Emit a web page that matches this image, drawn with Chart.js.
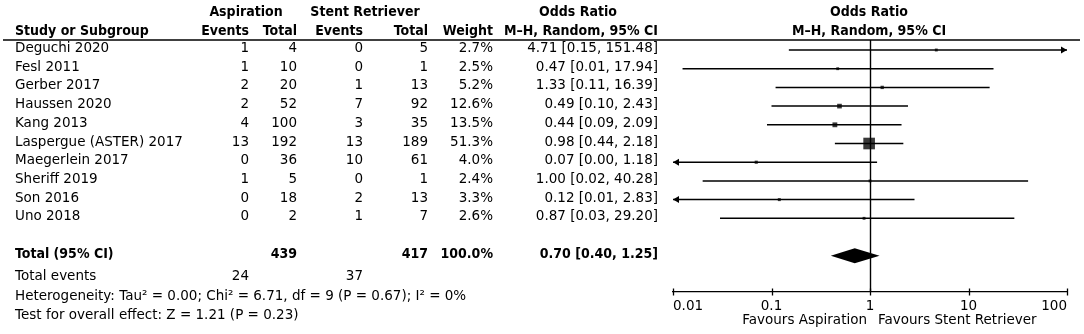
<!DOCTYPE html>
<html>
<head>
<meta charset="utf-8">
<script src="https://cdn.jsdelivr.net/npm/chart.js@4/dist/chart.umd.min.js"></script>
<style>
html,body{margin:0;padding:0;background:#fff;}
canvas{display:block;}
</style>
</head>
<body>
<canvas id="c" width="1084" height="334"></canvas>
<script>
// ---- data ----
const studies = ['Deguchi 2020','Fesl 2011','Gerber 2017','Haussen 2020','Kang 2013','Laspergue (ASTER) 2017','Maegerlein 2017','Sheriff 2019','Son 2016','Uno 2018'];
const aspEvents = [1,1,2,2,4,13,0,1,0,0];
const aspTotal = [4,10,20,52,100,192,36,5,18,2];
const stentEvents = [0,0,1,7,3,13,10,0,2,1];
const stentTotal = [5,1,13,92,35,189,61,1,13,7];
const weights = [2.7,2.5,5.2,12.6,13.5,51.3,4.0,2.4,3.3,2.6];
const orValues = [4.71,0.47,1.33,0.49,0.44,0.98,0.07,1.00,0.12,0.87];
const ciLow = [0.15,0.0125,0.11,0.10,0.09,0.44,0.004,0.02,0.0051,0.03];
const ciHigh = [151.48,17.94,16.39,2.43,2.09,2.18,1.18,40.28,2.83,29.20];
const totalLabel = 'Total (95% CI)';
const totalAspTotal = 439, totalStentTotal = 417, totalWeight = 100.0;
const totalOR = 0.70, totalLow = 0.40, totalHigh = 1.25;
const eventsLabel = 'Total events';
const totalAspEvents = 24, totalStentEvents = 37;
const heterogeneityText = 'Heterogeneity: Tau\u00B2 = 0.00; Chi\u00B2 = 6.71, df = 9 (P = 0.67); I\u00B2 = 0%';
const overallText = 'Test for overall effect: Z = 1.21 (P = 0.23)';
const tickValues = [0.01,0.1,1,10,100];
const tickLabels = ['0.01','0.1','1','10','100'];
const favoursLeft = 'Favours Aspiration';
const favoursRight = 'Favours Stent Retriever';

// ---- layout / style ----
const FONT = '"DejaVu Sans", Verdana, sans-serif';
const BFONT = '"DejaVu Sans Condensed", "DejaVu Sans", sans-serif';
const FS = 13.5, BFS = 14;
const ROW_TOTAL = 11;

const ciDatasets = studies.map((s,i)=>({
  type:'line',
  label:s,
  data:[{x:ciLow[i],y:i},{x:ciHigh[i],y:i}],
  borderColor:'#000',borderWidth:1.5,pointRadius:0,showLine:true,fill:false
}));
const pointDataset = {
  type:'scatter',
  label:'OR',
  data:orValues.map((v,i)=>({x:v,y:i})),
  pointStyle:'rect',
  pointRadius:weights.map(w=>(2.4+w*0.18)/Math.SQRT2),
  backgroundColor:'#383838',borderColor:'#383838',borderWidth:0
};

function fmt(v,d){return v.toFixed(d);}

const forestPlugin = {
  id:'forest',
  afterDatasetsDraw(chart){
    const ctx = chart.ctx, xs = chart.scales.x, ys = chart.scales.y, ca = chart.chartArea;
    ctx.save();
    ctx.strokeStyle='#000'; ctx.fillStyle='#000'; ctx.lineWidth=1.4;
    // null line at OR = 1
    const x1 = Math.round(xs.getPixelForValue(1))+0.5;
    ctx.beginPath(); ctx.moveTo(x1,ca.top); ctx.lineTo(x1,ca.bottom); ctx.stroke();
    // arrows for CIs beyond the axis
    studies.forEach((s,i)=>{
      const y = ys.getPixelForValue(i);
      if (ciHigh[i] > xs.max){
        const xe = xs.getPixelForValue(xs.max);
        ctx.beginPath(); ctx.moveTo(xe,y); ctx.lineTo(xe-6,y-3.5); ctx.lineTo(xe-6,y+3.5); ctx.closePath(); ctx.fill();
      }
      if (ciLow[i] < xs.min){
        const xe = xs.getPixelForValue(xs.min);
        ctx.beginPath(); ctx.moveTo(xe,y); ctx.lineTo(xe+6,y-3.5); ctx.lineTo(xe+6,y+3.5); ctx.closePath(); ctx.fill();
      }
    });
    // pooled diamond
    const yd = ys.getPixelForValue(ROW_TOTAL);
    const xl = xs.getPixelForValue(totalLow), xm = xs.getPixelForValue(totalOR), xr = xs.getPixelForValue(totalHigh);
    ctx.beginPath(); ctx.moveTo(xl,yd); ctx.lineTo(xm,yd-7.5); ctx.lineTo(xr,yd); ctx.lineTo(xm,yd+7.5); ctx.closePath(); ctx.fill();
    // axis ticks (crossing the axis line)
    ctx.lineWidth=1.3;
    tickValues.forEach(v=>{
      const x = Math.round(xs.getPixelForValue(v))+0.5;
      ctx.beginPath(); ctx.moveTo(x,ca.bottom-3.5); ctx.lineTo(x,ca.bottom+3.5); ctx.stroke();
    });
    ctx.restore();
  },
  afterDraw(chart){
    const ctx = chart.ctx, ys = chart.scales.y, xs = chart.scales.x;
    ctx.save();
    ctx.fillStyle='#000';
    ctx.textBaseline='middle';
    const reg = FS+'px '+FONT, bold = 'bold '+BFS+'px '+BFONT;
    function t(str,x,y,align,font){ctx.font=font||reg;ctx.textAlign=align||'left';ctx.fillText(str,x,y);}
    // header
    t('Aspiration',246,12.5,'center',bold);
    t('Stent Retriever',365,12.5,'center',bold);
    t('Odds Ratio',578,12.5,'center',bold);
    t('Odds Ratio',869,12.5,'center',bold);
    t('Study or Subgroup',15,31,'left',bold);
    t('Events',249,31,'right',bold);
    t('Total',297,31,'right',bold);
    t('Events',363,31,'right',bold);
    t('Total',428,31,'right',bold);
    t('Weight',493,31,'right',bold);
    t('M\u2013H, Random, 95% CI',658,31,'right',bold);
    t('M\u2013H, Random, 95% CI',869,31,'center',bold);
    // header rule
    ctx.strokeStyle='#000'; ctx.lineWidth=1.3;
    ctx.beginPath(); ctx.moveTo(3,40); ctx.lineTo(1080,40); ctx.stroke();
    // rows
    studies.forEach((s,i)=>{
      const y = ys.getPixelForValue(i)-1.5;
      t(s,15,y);
      t(String(aspEvents[i]),249,y,'right');
      t(String(aspTotal[i]),297,y,'right');
      t(String(stentEvents[i]),363,y,'right');
      t(String(stentTotal[i]),428,y,'right');
      t(fmt(weights[i],1)+'%',493,y,'right');
      t(fmt(orValues[i],2)+' ['+fmt(ciLow[i],2)+', '+fmt(ciHigh[i],2)+']',658,y,'right');
    });
    // total row
    const yt = ys.getPixelForValue(ROW_TOTAL)-1;
    t(totalLabel,15,yt,'left',bold);
    t(String(totalAspTotal),297,yt,'right',bold);
    t(String(totalStentTotal),428,yt,'right',bold);
    t(fmt(totalWeight,1)+'%',493,yt,'right',bold);
    t(fmt(totalOR,2)+' ['+fmt(totalLow,2)+', '+fmt(totalHigh,2)+']',658,yt,'right',bold);
    t(eventsLabel,15,276);
    t(String(totalAspEvents),249,276,'right');
    t(String(totalStentEvents),363,276,'right');
    t(heterogeneityText,15,296);
    t(overallText,15,315);
    // favours labels
    const x1 = xs.getPixelForValue(1);
    t(favoursLeft,x1-3,320,'right');
    t(favoursRight,x1+8,320,'left');
    ctx.restore();
  }
};

new Chart(document.getElementById('c'),{
  type:'scatter',
  data:{datasets:[...ciDatasets,pointDataset]},
  options:{
    responsive:false,animation:false,devicePixelRatio:1,
    layout:{padding:{left:673,right:17,top:40,bottom:0}},
    plugins:{legend:{display:false},tooltip:{enabled:false}},
    scales:{
      x:{
        type:'logarithmic',min:0.01,max:100,
        afterBuildTicks(scale){scale.ticks=tickValues.map(v=>({value:v}));},
        afterFit(scale){scale.height=42;},
        grid:{display:false,drawTicks:false},
        border:{display:true,color:'#000',width:1.3},
        ticks:{
          align:'inner',padding:6,color:'#000',maxRotation:0,autoSkip:false,
          font:{family:FONT,size:FS},
          callback(v){const k=tickValues.indexOf(v);return k>=0?tickLabels[k]:'';}
        }
      },
      y:{type:'linear',reverse:true,min:-0.535,max:12.94,display:false}
    }
  },
  plugins:[forestPlugin]
});
</script>
</body>
</html>
